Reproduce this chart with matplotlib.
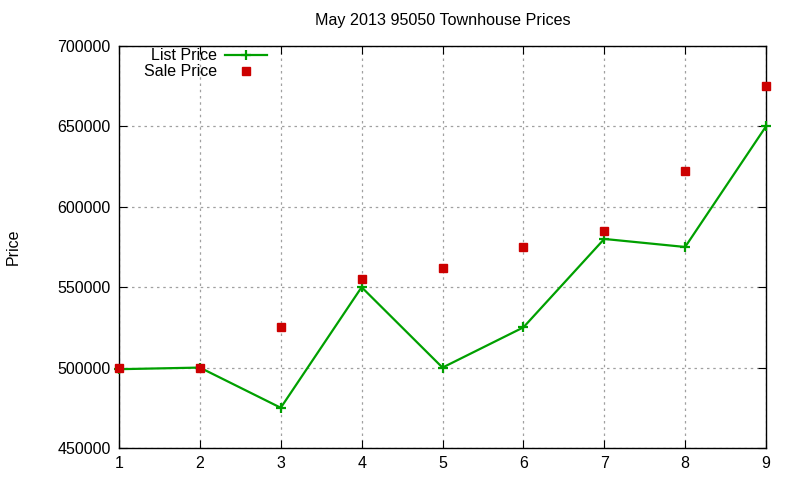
import matplotlib
matplotlib.use('Agg')
import matplotlib.pyplot as plt

plt.rcParams['font.family'] = ['Liberation Sans', 'DejaVu Sans']

months = [1, 2, 3, 4, 5, 6, 7, 8, 9]
list_price = [499000, 500000, 475000, 550000, 500000, 525000, 580000, 575000, 650000]
sale_price = [500000, 500000, 525000, 555000, 562000, 575000, 585000, 622000, 675000]

fig = plt.figure(figsize=(8, 4.8), dpi=100)
ax = fig.add_axes([0.14875, 0.0667, 0.80875, 0.8375])

ax.plot(months, list_price, color='#00a000', lw=1.6, marker='+', ms=6.5, mew=1.6,
        label='List Price', zorder=3, clip_on=False)
ax.plot(months, sale_price, ls='none', color='#cc0000', marker='s', ms=5.5,
        label='Sale Price', zorder=4, clip_on=False)

ax.set_xlim(1, 9)
ax.set_ylim(450000, 700000)
ax.set_xticks(months)
ax.set_yticks(range(450000, 700001, 50000))
ax.grid(True, color='#a0a0a0', ls=(0, (2, 3)), lw=0.9)
ax.tick_params(direction='in', length=6, top=True, right=True, labelsize=11.5, pad=6)
for s in ax.spines.values():
    s.set_linewidth(1.0)

ax.set_title('May 2013 95050 Townhouse Prices', fontsize=11.6, pad=15)
ax.set_ylabel('Price', fontsize=11.5, labelpad=26)

leg = ax.legend(loc='upper left', frameon=False, markerfirst=False, fontsize=11.5,
                handlelength=2.6, handletextpad=0.5, borderaxespad=0.0,
                labelspacing=0.05, bbox_to_anchor=(0.029, 1.01))
for t in leg.get_texts():
    t.set_ha('right')

fig.savefig('out.png', dpi=100)
